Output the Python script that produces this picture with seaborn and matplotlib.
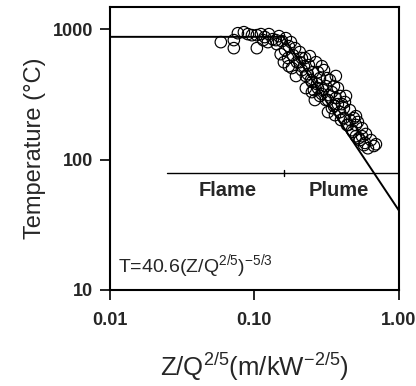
import numpy as np
import pandas as pd
import matplotlib
matplotlib.use("Agg")
import matplotlib.pyplot as plt
import seaborn as sns
from matplotlib.ticker import FixedLocator, FixedFormatter, NullLocator

# ---- data ----
zq = [0.0586, 0.0721, 0.0721, 0.0769, 0.0902, 0.0962, 0.104, 0.104, 0.111, 0.118,
      0.126, 0.134, 0.143, 0.148, 0.155, 0.163, 0.165, 0.173, 0.179, 0.185,
      0.171, 0.191, 0.197, 0.182, 0.206, 0.213, 0.224, 0.227, 0.238, 0.246,
      0.254, 0.267, 0.275, 0.284, 0.293, 0.303, 0.312, 0.323, 0.333, 0.344,
      0.355, 0.366, 0.378, 0.391, 0.403, 0.416, 0.430, 0.444, 0.458, 0.473,
      0.488, 0.504, 0.520, 0.537, 0.555, 0.573, 0.591, 0.610, 0.640, 0.671,
      0.693, 0.206, 0.220, 0.234, 0.250, 0.258, 0.271, 0.284, 0.298, 0.312,
      0.328, 0.344, 0.361, 0.378, 0.397, 0.416, 0.437, 0.458, 0.481, 0.504,
      0.528, 0.555, 0.582, 0.194, 0.213, 0.242, 0.227, 0.262, 0.275, 0.293,
      0.318, 0.355, 0.366, 0.323, 0.391, 0.423, 0.504, 0.250, 0.160, 0.173,
      0.152, 0.141, 0.124, 0.115, 0.0846]
temp = [795, 824, 715, 931, 916, 899, 715, 899, 916, 869,
        916, 838, 767, 884, 809, 690, 853, 741, 795, 632,
        600, 715, 558, 503, 667, 485, 600, 437, 530, 407,
        468, 558, 353, 421, 318, 485, 366, 286, 407, 329,
        257, 296, 353, 231, 266, 208, 307, 184, 239, 168,
        208, 151, 194, 141, 174, 129, 157, 122, 141, 127,
        131, 558, 520, 452, 393, 341, 379, 307, 341, 286,
        312, 248, 219, 266, 201, 248, 184, 201, 163, 184,
        146, 151, 134, 437, 600, 621, 353, 286, 468, 520,
        421, 366, 437, 231, 307, 276, 215, 329, 558, 520,
        643, 824, 795, 824, 948]

flame_T = 873.0          # continuous flame region temperature
plume_coef = 40.6        # T = 40.6 (Z/Q^2/5)^-5/3
plume_exp = -5.0 / 3.0
x_break = (flame_T / plume_coef) ** (1.0 / plume_exp)
corr_x = [0.01, x_break, 1.0]
corr_T = [flame_T, flame_T, plume_coef * 1.0 ** plume_exp]

region_x = [0.0248, 1.0]
region_T = [79, 79]
region_split = 0.16

xticks = [0.01, 0.1, 1.0]
xtick_labels = ["0.01", "0.10", "1.00"]
yticks = [10, 100, 1000]
ytick_labels = ["10", "100", "1000"]

# ---- styling ----
sns.set_style("ticks")
plt.rcParams["font.family"] = ["Liberation Sans", "DejaVu Sans"]
plt.rcParams["mathtext.fontset"] = "custom"
plt.rcParams["mathtext.rm"] = "Liberation Sans"
plt.rcParams["mathtext.it"] = "Liberation Sans"

fig = plt.figure(figsize=(4.16, 3.86), dpi=100)
ax = fig.add_axes([0.264, 0.249, 0.695, 0.733])

df = pd.DataFrame({"zq": zq, "T": temp})
sns.scatterplot(data=df, x="zq", y="T", ax=ax, marker="o", s=68,
                facecolor="none", edgecolor="black", linewidth=0.85, zorder=3)

cdf = pd.DataFrame({"x": corr_x, "T": corr_T})
sns.lineplot(data=cdf, x="x", y="T", ax=ax, color="black", linewidth=1.4,
             estimator=None, sort=False, zorder=2)
rdf = pd.DataFrame({"x": region_x, "T": region_T})
sns.lineplot(data=rdf, x="x", y="T", ax=ax, color="black", linewidth=1.0,
             estimator=None, sort=False, zorder=2)
ax.plot([region_split, region_split], [75, 83.5], color="black", linewidth=1.0)

ax.set_xscale("log")
ax.set_yscale("log")
ax.set_xlim(0.01, 1.0)
ax.set_ylim(10, 1480)

ax.xaxis.set_major_locator(FixedLocator(xticks))
ax.xaxis.set_major_formatter(FixedFormatter(xtick_labels))
ax.yaxis.set_major_locator(FixedLocator(yticks))
ax.yaxis.set_major_formatter(FixedFormatter(ytick_labels))
ax.xaxis.set_minor_locator(NullLocator())
ax.yaxis.set_minor_locator(NullLocator())
ax.tick_params(axis="both", which="major", direction="out", length=7,
               width=1.2, color="black", labelsize=13)
ax.tick_params(axis="x", pad=9)
ax.tick_params(axis="y", pad=5)
for lab in ax.get_xticklabels() + ax.get_yticklabels():
    lab.set_fontweight("bold")

for sp in ax.spines.values():
    sp.set_visible(True)
    sp.set_linewidth(1.5)
    sp.set_color("black")

ax.set_xlabel(r"Z/Q$^{2/5}$(m/kW$^{-2/5}$)", fontsize=18.5, labelpad=16)
ax.set_ylabel("Temperature (°C)", fontsize=17, labelpad=5)

ax.text(0.0656, 58, "Flame", fontsize=14.5, fontweight="bold", ha="center", va="center")
ax.text(0.385, 58, "Plume", fontsize=14.5, fontweight="bold", ha="center", va="center")
ax.text(0.028, 0.085, r"T=40.6(Z/Q$^{2/5}$)$^{-5/3}$", transform=ax.transAxes,
        fontsize=14, ha="left", va="center")

fig.savefig("out.png", dpi=100)
